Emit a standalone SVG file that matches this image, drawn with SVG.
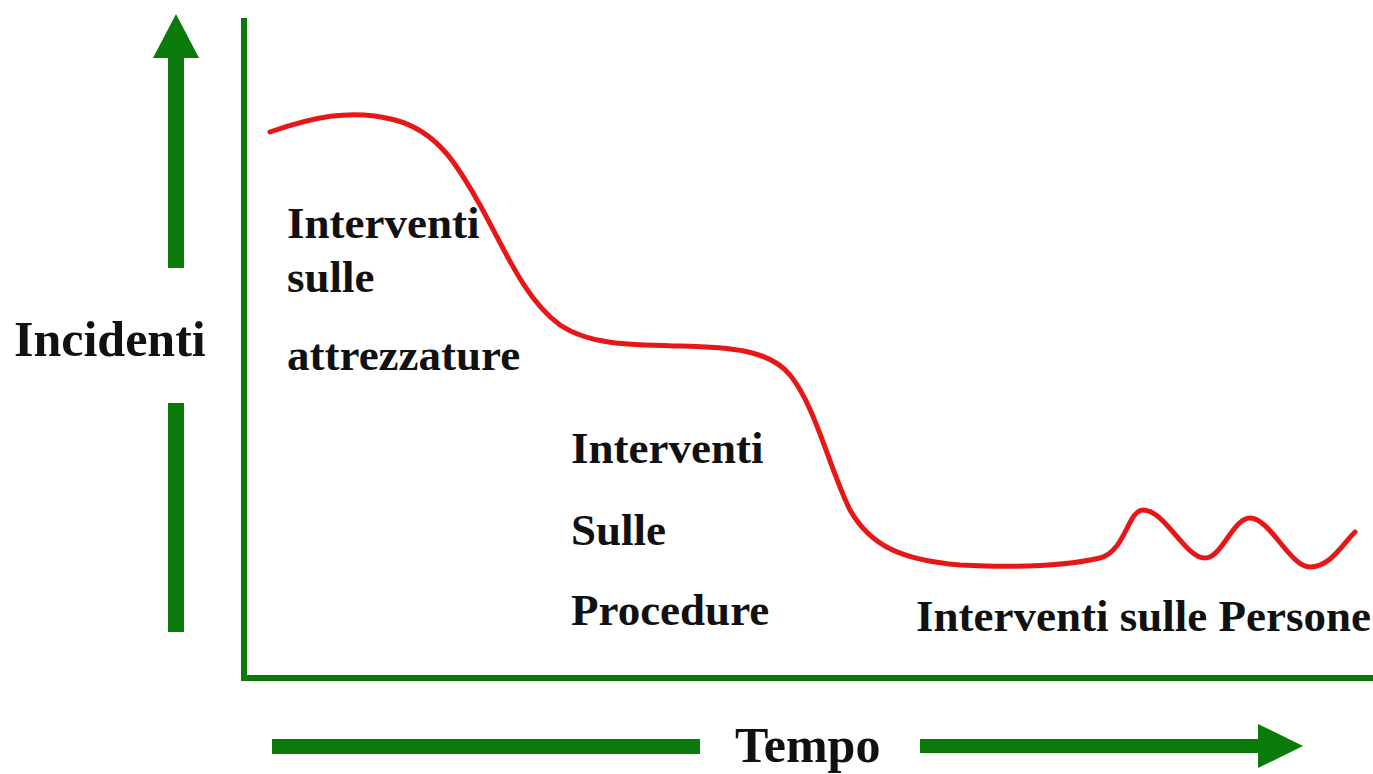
<svg xmlns="http://www.w3.org/2000/svg" width="1373" height="774" viewBox="0 0 1373 774">
<style>
.g{fill:#0a7a0a}
.ax{stroke:#0a7a0a;stroke-width:6;fill:none}
.t{font-family:"Liberation Serif",serif;font-weight:bold;fill:#111}
.lb{font-size:45px}
.big{font-size:50px}
.curve{stroke:#e81717;stroke-width:5;fill:none;stroke-linecap:round;stroke-linejoin:round}
</style>
<rect width="1373" height="774" fill="#fff"/>
<g id="axes">
<path class="ax" d="M244 18 V678 H1373"/>
</g>
<g id="y-arrow">
<polygon class="g" points="176,14 199,58 153,58"/>
<rect class="g" x="168" y="57" width="16" height="211"/>
<rect class="g" x="168" y="403" width="16" height="229"/>
<text class="t big" x="14" y="356">Incidenti</text>
</g>
<g id="x-arrow">
<rect class="g" x="272" y="739" width="428" height="15"/>
<rect class="g" x="920" y="739" width="340" height="14"/>
<polygon class="g" points="1258,724 1303,746 1258,768"/>
<text class="t big" x="735" y="762">Tempo</text>
</g>
<g id="connectors">
<path class="curve" d="M270 132 C310 118 350 108 395 120 C440 132 460 170 480 205 C505 250 525 300 560 325 C590 345 630 345 680 346 C730 347 770 350 790 375 C815 405 830 470 850 510 C870 545 900 560 960 565 C1020 568 1070 565 1100 558 C1125 552 1128 510 1143 510 C1165 510 1185 558 1205 558 C1222 558 1233 518 1250 518 C1270 518 1290 567 1310 567 C1330 567 1342 545 1355 532"/>
</g>
<g id="label-attrezzature">
<text class="t lb" x="287" y="238">Interventi</text>
<text class="t lb" x="287" y="292">sulle</text>
<text class="t lb" x="287" y="370">attrezzature</text>
</g>
<g id="label-procedure">
<text class="t lb" x="571" y="463">Interventi</text>
<text class="t lb" x="571" y="545">Sulle</text>
<text class="t lb" x="571" y="625">Procedure</text>
</g>
<g id="label-persone">
<text class="t lb" x="916" y="631">Interventi sulle Persone</text>
</g>
</svg>
